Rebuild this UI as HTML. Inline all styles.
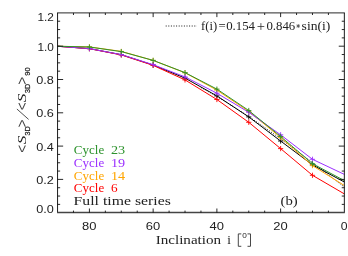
<!DOCTYPE html>
<html><head><meta charset="utf-8"><title>plot</title>
<style>
html,body{margin:0;padding:0;background:#fff;}
body{width:348px;height:256px;overflow:hidden;}
svg{display:block;will-change:transform;}
text{font-family:"Liberation Serif",serif;}
.t{font-family:"Liberation Sans",sans-serif;font-size:11.1px;fill:#222;}
</style></head><body>
<svg width="348" height="256" viewBox="0 0 348 256">
<rect width="348" height="256" fill="#fff"/>

<polyline points="200.95,87.46 204.14,89.21 207.32,90.99 210.51,92.81 213.70,94.65 216.88,96.52 220.07,98.41 223.26,100.34 226.44,102.29 229.63,104.26 232.82,106.27 236.00,108.29 239.19,110.34 242.38,112.42 245.56,114.51 248.75,116.63 251.94,118.77 255.12,120.93 258.31,123.11 261.50,125.31 264.68,127.53 267.87,129.77 271.06,132.02 274.24,134.29 277.43,136.58 280.62,138.88 283.80,141.20 286.99,143.53 290.18,145.88 293.36,148.23 296.55,150.60 299.74,152.98 302.92,155.37 306.11,157.77 309.30,160.18 312.48,162.60 315.67,165.02 318.86,167.46 322.04,169.89 325.23,172.34 328.42,174.78 331.60,177.23 334.79,179.69 337.98,182.14 341.16,184.60 344.35,187.06" fill="none" stroke="#000" stroke-width="0.9" stroke-dasharray="1 1.6"/>
<polyline points="57.55,46.25 89.42,48.60 121.28,54.70 153.15,65.00 185.02,78.10 216.88,95.90 248.75,116.90 280.62,141.00 312.48,164.90 344.35,182.00" fill="none" stroke="#000000" stroke-width="1.0" stroke-linejoin="round"/>
<path d="M86.82,48.60h5.2M89.42,46.00v5.2M118.68,54.70h5.2M121.28,52.10v5.2M150.55,65.00h5.2M153.15,62.40v5.2M182.42,78.10h5.2M185.02,75.50v5.2M214.28,95.90h5.2M216.88,93.30v5.2M246.15,116.90h5.2M248.75,114.30v5.2M278.02,141.00h5.2M280.62,138.40v5.2M309.88,164.90h5.2M312.48,162.30v5.2" stroke="#000000" stroke-width="0.9" fill="none"/>
<polyline points="57.55,46.25 89.42,48.70 121.28,54.90 153.15,65.40 185.02,79.90 216.88,99.50 248.75,122.30 280.62,148.60 312.48,175.30 344.35,193.90" fill="none" stroke="#ff0000" stroke-width="1.0" stroke-linejoin="round"/>
<path d="M86.82,48.70h5.2M89.42,46.10v5.2M118.68,54.90h5.2M121.28,52.30v5.2M150.55,65.40h5.2M153.15,62.80v5.2M182.42,79.90h5.2M185.02,77.30v5.2M214.28,99.50h5.2M216.88,96.90v5.2M246.15,122.30h5.2M248.75,119.70v5.2M278.02,148.60h5.2M280.62,146.00v5.2M309.88,175.30h5.2M312.48,172.70v5.2" stroke="#ff0000" stroke-width="0.9" fill="none"/>
<polyline points="57.55,46.25 89.42,46.90 121.28,51.40 153.15,60.40 185.02,72.80 216.88,90.10 248.75,111.40 280.62,137.50 312.48,165.60 344.35,185.50" fill="none" stroke="#ffa500" stroke-width="1.0" stroke-linejoin="round"/>
<path d="M86.82,46.90h5.2M89.42,44.30v5.2M118.68,51.40h5.2M121.28,48.80v5.2M150.55,60.40h5.2M153.15,57.80v5.2M182.42,72.80h5.2M185.02,70.20v5.2M214.28,90.10h5.2M216.88,87.50v5.2M246.15,111.40h5.2M248.75,108.80v5.2M278.02,137.50h5.2M280.62,134.90v5.2M309.88,165.60h5.2M312.48,163.00v5.2" stroke="#ffa500" stroke-width="0.9" fill="none"/>
<polyline points="57.55,46.25 89.42,48.60 121.28,54.60 153.15,64.70 185.02,76.90 216.88,93.20 248.75,112.30 280.62,134.80 312.48,159.30 344.35,174.40" fill="none" stroke="#9b30ff" stroke-width="1.0" stroke-linejoin="round"/>
<path d="M86.82,48.60h5.2M89.42,46.00v5.2M118.68,54.60h5.2M121.28,52.00v5.2M150.55,64.70h5.2M153.15,62.10v5.2M182.42,76.90h5.2M185.02,74.30v5.2M214.28,93.20h5.2M216.88,90.60v5.2M246.15,112.30h5.2M248.75,109.70v5.2M278.02,134.80h5.2M280.62,132.20v5.2M309.88,159.30h5.2M312.48,156.70v5.2" stroke="#9b30ff" stroke-width="0.9" fill="none"/>
<polyline points="57.55,46.25 89.42,47.00 121.28,51.60 153.15,60.40 185.02,72.60 216.88,89.10 248.75,110.50 280.62,136.50 312.48,163.70 344.35,180.60" fill="none" stroke="#2c922c" stroke-width="1.0" stroke-linejoin="round"/>
<path d="M86.82,47.00h5.2M89.42,44.40v5.2M118.68,51.60h5.2M121.28,49.00v5.2M150.55,60.40h5.2M153.15,57.80v5.2M182.42,72.60h5.2M185.02,70.00v5.2M214.28,89.10h5.2M216.88,86.50v5.2M246.15,110.50h5.2M248.75,107.90v5.2M278.02,136.50h5.2M280.62,133.90v5.2M309.88,163.70h5.2M312.48,161.10v5.2" stroke="#2c922c" stroke-width="0.9" fill="none"/>
<path d="M57.55,12.9V212.7M344.35,12.9V212.7" fill="none" stroke="#111" stroke-width="0.95"/>
<path d="M57.10,12.9H344.80" fill="none" stroke="#111" stroke-width="0.9"/>
<path d="M57.10,212.5H344.80" fill="none" stroke="#444" stroke-width="1.45"/>
<path d="M73.48,212.7v-2.1M73.48,12.9v2.1M89.42,212.7v-4.2M89.42,12.9v4.2M105.35,212.7v-2.1M105.35,12.9v2.1M121.28,212.7v-2.1M121.28,12.9v2.1M137.22,212.7v-2.1M137.22,12.9v2.1M153.15,212.7v-4.2M153.15,12.9v4.2M169.08,212.7v-2.1M169.08,12.9v2.1M185.02,212.7v-2.1M185.02,12.9v2.1M200.95,212.7v-2.1M200.95,12.9v2.1M216.88,212.7v-4.2M216.88,12.9v4.2M232.82,212.7v-2.1M232.82,12.9v2.1M248.75,212.7v-2.1M248.75,12.9v2.1M264.68,212.7v-2.1M264.68,12.9v2.1M280.62,212.7v-4.2M280.62,12.9v4.2M296.55,212.7v-2.1M296.55,12.9v2.1M312.48,212.7v-2.1M312.48,12.9v2.1M328.42,212.7v-2.1M328.42,12.9v2.1M57.55,204.38h2.6M344.35,204.38h-2.6M57.55,196.05h2.6M344.35,196.05h-2.6M57.55,187.72h2.6M344.35,187.72h-2.6M57.55,179.40h5.6M344.35,179.40h-5.6M57.55,171.07h2.6M344.35,171.07h-2.6M57.55,162.75h2.6M344.35,162.75h-2.6M57.55,154.42h2.6M344.35,154.42h-2.6M57.55,146.10h5.6M344.35,146.10h-5.6M57.55,137.77h2.6M344.35,137.77h-2.6M57.55,129.45h2.6M344.35,129.45h-2.6M57.55,121.12h2.6M344.35,121.12h-2.6M57.55,112.80h5.6M344.35,112.80h-5.6M57.55,104.47h2.6M344.35,104.47h-2.6M57.55,96.15h2.6M344.35,96.15h-2.6M57.55,87.82h2.6M344.35,87.82h-2.6M57.55,79.50h5.6M344.35,79.50h-5.6M57.55,71.17h2.6M344.35,71.17h-2.6M57.55,62.85h2.6M344.35,62.85h-2.6M57.55,54.52h2.6M344.35,54.52h-2.6M57.55,46.20h5.6M344.35,46.20h-5.6M57.55,37.88h2.6M344.35,37.88h-2.6M57.55,29.55h2.6M344.35,29.55h-2.6M57.55,21.22h2.6M344.35,21.22h-2.6" stroke="#111" stroke-width="0.9" fill="none"/>
<text class="t" x="36.20" y="213.20" textLength="17.6" lengthAdjust="spacingAndGlyphs">0.0</text>
<text class="t" x="36.20" y="183.90" textLength="17.6" lengthAdjust="spacingAndGlyphs">0.2</text>
<text class="t" x="36.20" y="150.60" textLength="17.6" lengthAdjust="spacingAndGlyphs">0.4</text>
<text class="t" x="36.20" y="117.30" textLength="17.6" lengthAdjust="spacingAndGlyphs">0.6</text>
<text class="t" x="36.20" y="84.00" textLength="17.6" lengthAdjust="spacingAndGlyphs">0.8</text>
<text class="t" x="37.40" y="50.70" textLength="16.4" lengthAdjust="spacingAndGlyphs">1.0</text>
<text class="t" x="37.40" y="21.40" textLength="16.4" lengthAdjust="spacingAndGlyphs">1.2</text>
<text class="t" x="82.12" y="229.5" textLength="14.4" lengthAdjust="spacingAndGlyphs">80</text>
<text class="t" x="145.85" y="229.5" textLength="14.4" lengthAdjust="spacingAndGlyphs">60</text>
<text class="t" x="209.58" y="229.5" textLength="14.4" lengthAdjust="spacingAndGlyphs">40</text>
<text class="t" x="273.32" y="229.5" textLength="14.4" lengthAdjust="spacingAndGlyphs">20</text>
<text class="t" x="340.85" y="229.5" textLength="6.8" lengthAdjust="spacingAndGlyphs">0</text>
<text x="155.7" y="244" font-size="13" fill="#222" textLength="65.4" lengthAdjust="spacingAndGlyphs">Inclination</text>
<text x="227.2" y="244" font-size="13" fill="#222">i</text>
<path d="M241.3,233.9H238.3V246.3H241.3M247.5,233.9H250.5V246.3H247.5" stroke="#333" stroke-width="0.9" fill="none"/>
<text x="242.3" y="237.9" font-size="7.6" fill="#222" style="font-family:'Liberation Sans',sans-serif" textLength="4.6" lengthAdjust="spacingAndGlyphs">0</text>
<text x="73.8" y="154.3" font-size="12.5" fill="#2c922c" textLength="30.4" lengthAdjust="spacingAndGlyphs">Cycle</text>
<text x="110.9" y="154.3" font-size="12.5" fill="#2c922c" textLength="14.2" lengthAdjust="spacingAndGlyphs">23</text>
<text x="73.8" y="166.9" font-size="12.5" fill="#9b30ff" textLength="30.4" lengthAdjust="spacingAndGlyphs">Cycle</text>
<text x="110.9" y="166.9" font-size="12.5" fill="#9b30ff" textLength="14.2" lengthAdjust="spacingAndGlyphs">19</text>
<text x="73.8" y="179.6" font-size="12.5" fill="#ffa500" textLength="30.4" lengthAdjust="spacingAndGlyphs">Cycle</text>
<text x="110.9" y="179.6" font-size="12.5" fill="#ffa500" textLength="14.2" lengthAdjust="spacingAndGlyphs">14</text>
<text x="73.8" y="192.1" font-size="12.5" fill="#ff0000" textLength="30.4" lengthAdjust="spacingAndGlyphs">Cycle</text>
<text x="110.9" y="192.1" font-size="12.5" fill="#ff0000" textLength="6.6" lengthAdjust="spacingAndGlyphs">6</text>
<text x="73.6" y="204.6" font-size="12.5" fill="#222" textLength="97.2" lengthAdjust="spacingAndGlyphs">Full time series</text>
<line x1="165.7" y1="26" x2="197" y2="26" stroke="#000" stroke-width="0.9" stroke-dasharray="1 1.6"/>
<text x="201" y="30.4" font-size="12.5" fill="#222" textLength="16.1" lengthAdjust="spacingAndGlyphs">f(i)</text>
<text x="218.4" y="30.4" font-size="12.5" fill="#222" textLength="7.2" lengthAdjust="spacingAndGlyphs">=</text>
<text x="226.2" y="30.4" font-size="12.5" fill="#222" textLength="28.8" lengthAdjust="spacingAndGlyphs">0.154</text>
<path d="M257.5,26.5h6.8M260.9,23.1v6.8" stroke="#333" stroke-width="0.8" fill="none"/>
<text x="266.4" y="30.4" font-size="12.5" fill="#222" textLength="28.8" lengthAdjust="spacingAndGlyphs">0.846</text>
<path d="M298.2,24v4M296.5,25l3.4,2M296.5,27l3.4,-2" stroke="#333" stroke-width="0.7" fill="none"/>
<text x="301.6" y="30.4" font-size="12.5" fill="#222" textLength="28.8" lengthAdjust="spacingAndGlyphs">sin(i)</text>
<text x="280.5" y="205" font-size="12.5" fill="#222" textLength="17.2" lengthAdjust="spacingAndGlyphs">(b)</text>
<g transform="translate(26.4,153) rotate(-90)" fill="#222">
<text transform="translate(0.2,0.5) scale(1.15,1.15)" font-size="12" style="font-family:'Liberation Sans',sans-serif" fill="#444">&lt;</text>
<text transform="translate(8.7,0) scale(1.35,1)" font-size="12.8" font-style="italic">S</text>
<text transform="translate(17.5,3.3) scale(1,1)" font-size="7.2" style="font-family:'Liberation Sans',sans-serif" stroke="#222" stroke-width="0.25">3D</text>
<text transform="translate(25.6,0.5) scale(1.15,1.15)" font-size="12" style="font-family:'Liberation Sans',sans-serif" fill="#444">&gt;</text>
<path d="M33.6,2.2L44,-9.5" stroke="#333" stroke-width="0.85" fill="none"/>
<text transform="translate(42.7,0.5) scale(1.15,1.15)" font-size="12" style="font-family:'Liberation Sans',sans-serif" fill="#444">&lt;</text>
<text transform="translate(50.8,0) scale(1.35,1)" font-size="12.8" font-style="italic">S</text>
<text transform="translate(60.0,3.3) scale(1,1)" font-size="7.2" style="font-family:'Liberation Sans',sans-serif" stroke="#222" stroke-width="0.25">3D</text>
<text transform="translate(68.3,0.5) scale(1.15,1.15)" font-size="12" style="font-family:'Liberation Sans',sans-serif" fill="#444">&gt;</text>
<text transform="translate(77.3,3.3) scale(1,1)" font-size="7.4" style="font-family:'Liberation Sans',sans-serif" stroke="#222" stroke-width="0.25">90</text>
</g>
</svg></body></html>
